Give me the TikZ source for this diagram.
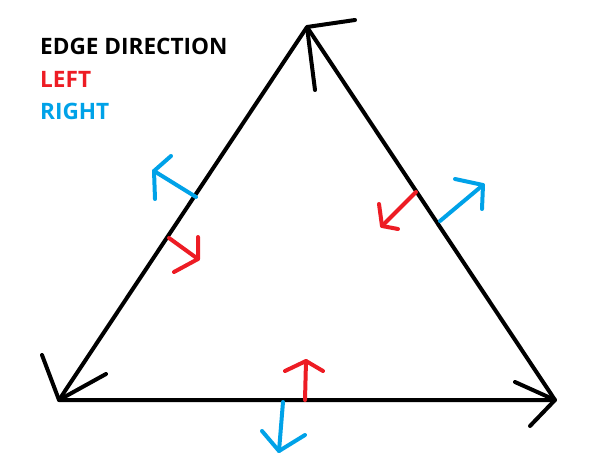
\documentclass[tikz,border=0pt]{standalone}
\usepackage{fontspec}
\setmainfont{Open Sans}
\definecolor{pred}{RGB}{237,28,36}
\definecolor{pblue}{RGB}{0,162,232}
\begin{document}
\begin{tikzpicture}[x=1pt,y=-1pt,
  edge/.style={line width=4pt, line cap=round, line join=round, black},
  lft/.style={line width=4pt, line cap=round, line join=round, pred},
  rgt/.style={line width=4pt, line cap=round, line join=round, pblue},
  lbl/.style={anchor=base west, inner sep=0pt, font=\fontsize{22.6}{26}\selectfont\bfseries}]
\useasboundingbox (0,0) rectangle (597,476);
% vertices
\coordinate (T) at (307,27);
\coordinate (BL) at (59,400);
\coordinate (BR) at (555,400);
% edges
\draw[edge] (T) -- (BL) -- (BR) -- cycle;
% black direction arrowheads
\draw[edge] (355,20) -- (T) -- (315,90);
\draw[edge] (42,355) -- (BL) -- (106,374);
\draw[edge] (515,382) -- (BR) -- (530,426);
% left edge normals
\draw[rgt] (196,197) -- (154,171);
\draw[rgt] (171,156) -- (154,171) -- (155,199);
\draw[lft] (169,238) -- (198,259);
\draw[lft] (198,237) -- (198,259) -- (174,272);
% right edge normals
\draw[lft] (416,192) -- (382,226);
\draw[lft] (379,204) -- (382,226) -- (398,229);
\draw[rgt] (440,221) -- (483,185);
\draw[rgt] (455,179) -- (483,185) -- (482,209);
% bottom edge normals
\draw[lft] (305,400) -- (306,361);
\draw[lft] (285,371) -- (306,361) -- (323,371);
\draw[rgt] (283,402) -- (279,451);
\draw[rgt] (262,431) -- (279,451) -- (305,435);
% legend
\node[lbl] (t1) at (40,55) {EDGE DIRECTION};
\node[lbl, text=pred] (t2) at (40,88) {LEFT};
\node[lbl, text=pblue] (t3) at (40,120) {RIGHT};
\end{tikzpicture}
\end{document}
